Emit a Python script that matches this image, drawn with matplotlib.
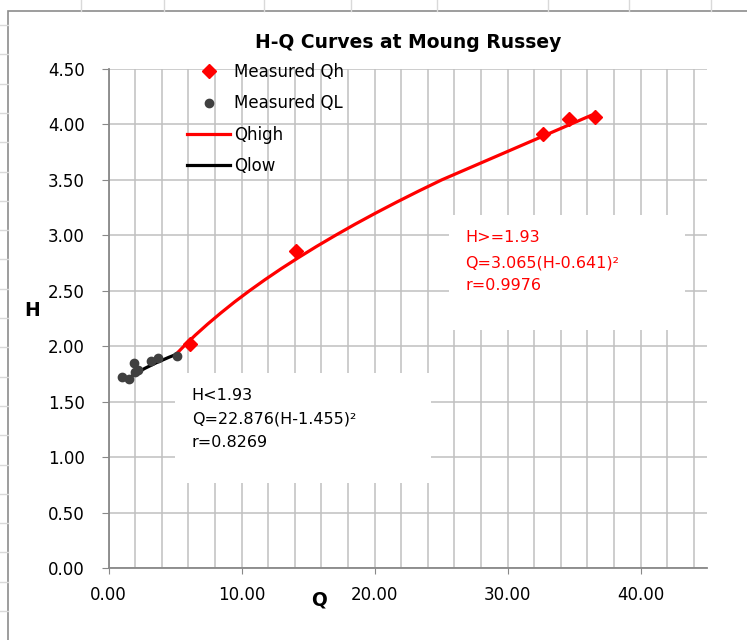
import matplotlib
matplotlib.use("Agg")
import matplotlib.pyplot as plt
from matplotlib.lines import Line2D
from matplotlib.patches import Rectangle
from matplotlib.ticker import FormatStrFormatter, MultipleLocator

# measured points (Q, H)
QH_Q = [6.1, 14.1, 32.7, 34.6, 36.6]
QH_H = [2.02, 2.86, 3.91, 4.05, 4.07]
QL_Q = [0.98, 1.56, 1.93, 1.98, 2.23, 3.19, 3.73, 5.12]
QL_H = [1.72, 1.70, 1.85, 1.77, 1.79, 1.87, 1.89, 1.91]

# rating curves
QHIGH_Q = [5.09, 5.66, 6.52, 7.45, 8.44, 9.48, 10.59, 11.76, 12.99, 14.29,
           15.64, 17.06, 18.53, 20.07, 21.67, 23.33, 25.05, 36.25]
QHIGH_H = [1.93, 2.0, 2.1, 2.2, 2.3, 2.4, 2.5, 2.6, 2.7, 2.8,
           2.9, 3.0, 3.1, 3.2, 3.3, 3.4, 3.5, 4.08]
QLOW_Q = [1.37, 1.99, 2.72, 3.57, 4.53, 5.16]
QLOW_H = [1.70, 1.75, 1.80, 1.85, 1.90, 1.93]

HIGH_NOTE = ["H>=1.93", "Q=3.065(H-0.641)\u00b2", "r=0.9976"]
LOW_NOTE = ["H<1.93", "Q=22.876(H-1.455)\u00b2", "r=0.8269"]

W, H = 747, 640
fig = plt.figure(figsize=(W / 100, H / 100), dpi=100)
ax = fig.add_axes([108.6 / W, 1 - 568 / H, 598.4 / W, 499 / H])

# spreadsheet cells behind the chart object
cell = "#d9d9d9"
for x in [81, 164, 264, 351, 437, 548, 629, 711]:
    fig.add_artist(Line2D([x / W, x / W], [1, 1 - 11 / H], color=cell, lw=1.0))
y = 25
while y < H:
    fig.add_artist(Line2D([0, 7.5 / W], [1 - y / H, 1 - y / H], color=cell, lw=1.0))
    y += 29.3
fig.add_artist(Rectangle((7.5 / W, -0.05), 1.2, 1 - 11 / H + 0.05, transform=fig.transFigure,
                         fill=False, edgecolor="#8c8c8c", lw=1.2))

grid = "#c0c0c0"
ax.set_xlim(0, 45)
ax.set_ylim(0, 4.5)
ax.xaxis.set_major_locator(MultipleLocator(10))
ax.xaxis.set_minor_locator(MultipleLocator(2))
ax.yaxis.set_major_locator(MultipleLocator(0.5))
ax.xaxis.set_major_formatter(FormatStrFormatter("%.2f"))
ax.yaxis.set_major_formatter(FormatStrFormatter("%.2f"))
ax.grid(axis="x", which="both", color=grid, lw=1.1)
ax.grid(axis="y", which="major", color=grid, lw=1.1)
ax.set_axisbelow(True)
for side in ("top", "right"):
    ax.spines[side].set_visible(False)
for side in ("left", "bottom"):
    ax.spines[side].set_color("#888888")
    ax.spines[side].set_linewidth(1.3)
ax.tick_params(axis="x", which="major", length=4, color="#888888", labelsize=12, pad=9)
ax.tick_params(axis="x", which="minor", length=0)
ax.tick_params(axis="y", length=5, color="#888888", labelsize=12, pad=12)

# white label boxes hide the gridlines
ax.add_patch(Rectangle((0.569, 0.477), 0.394, 0.230, transform=ax.transAxes,
                       facecolor="white", edgecolor="none", zorder=1))
ax.add_patch(Rectangle((0.111, 0.170), 0.428, 0.221, transform=ax.transAxes,
                       facecolor="white", edgecolor="none", zorder=1))
for line, yy in zip(HIGH_NOTE, [0.653, 0.603, 0.557]):
    ax.text(0.596, yy, line, transform=ax.transAxes, color="#ff0000",
            fontsize=11.5, va="baseline", zorder=2)
for line, yy in zip(LOW_NOTE, [0.337, 0.289, 0.242]):
    ax.text(0.139, yy, line, transform=ax.transAxes, color="black",
            fontsize=11.5, va="baseline", zorder=2)

ax.plot(QHIGH_Q, QHIGH_H, color="#ff0000", lw=2.3, zorder=3)
ax.plot(QLOW_Q, QLOW_H, color="black", lw=2.3, zorder=3)
ax.plot(QH_Q, QH_H, ls="none", marker="D", ms=7, color="#ff0000", zorder=4)
ax.plot(QL_Q, QL_H, ls="none", marker="o", ms=6, color="#404040", zorder=4)

handles = [
    Line2D([], [], ls="none", marker="D", ms=7, color="#ff0000"),
    Line2D([], [], ls="none", marker="o", ms=6, color="#404040"),
    Line2D([], [], color="#ff0000", lw=2.3),
    Line2D([], [], color="black", lw=2.3),
]
ax.legend(handles, ["Measured Qh", "Measured QL", "Qhigh", "Qlow"],
          loc="upper left", bbox_to_anchor=(0.131, 1.012), frameon=False,
          borderaxespad=0, borderpad=0, handlelength=2.6, handletextpad=0.25,
          labelspacing=0.8, fontsize=12)

fig.text(407.8 / W, 1 - 43 / H, "H-Q Curves at Moung Russey", ha="center", va="center",
         fontsize=13.5, fontweight="bold")
fig.text(31.7 / W, 1 - 310 / H, "H", ha="center", va="center", fontsize=13.5, fontweight="bold")
fig.text(319 / W, 1 - 600 / H, "Q", ha="center", va="center", fontsize=13.5, fontweight="bold")

fig.savefig("out.png", dpi=100, facecolor="white")
